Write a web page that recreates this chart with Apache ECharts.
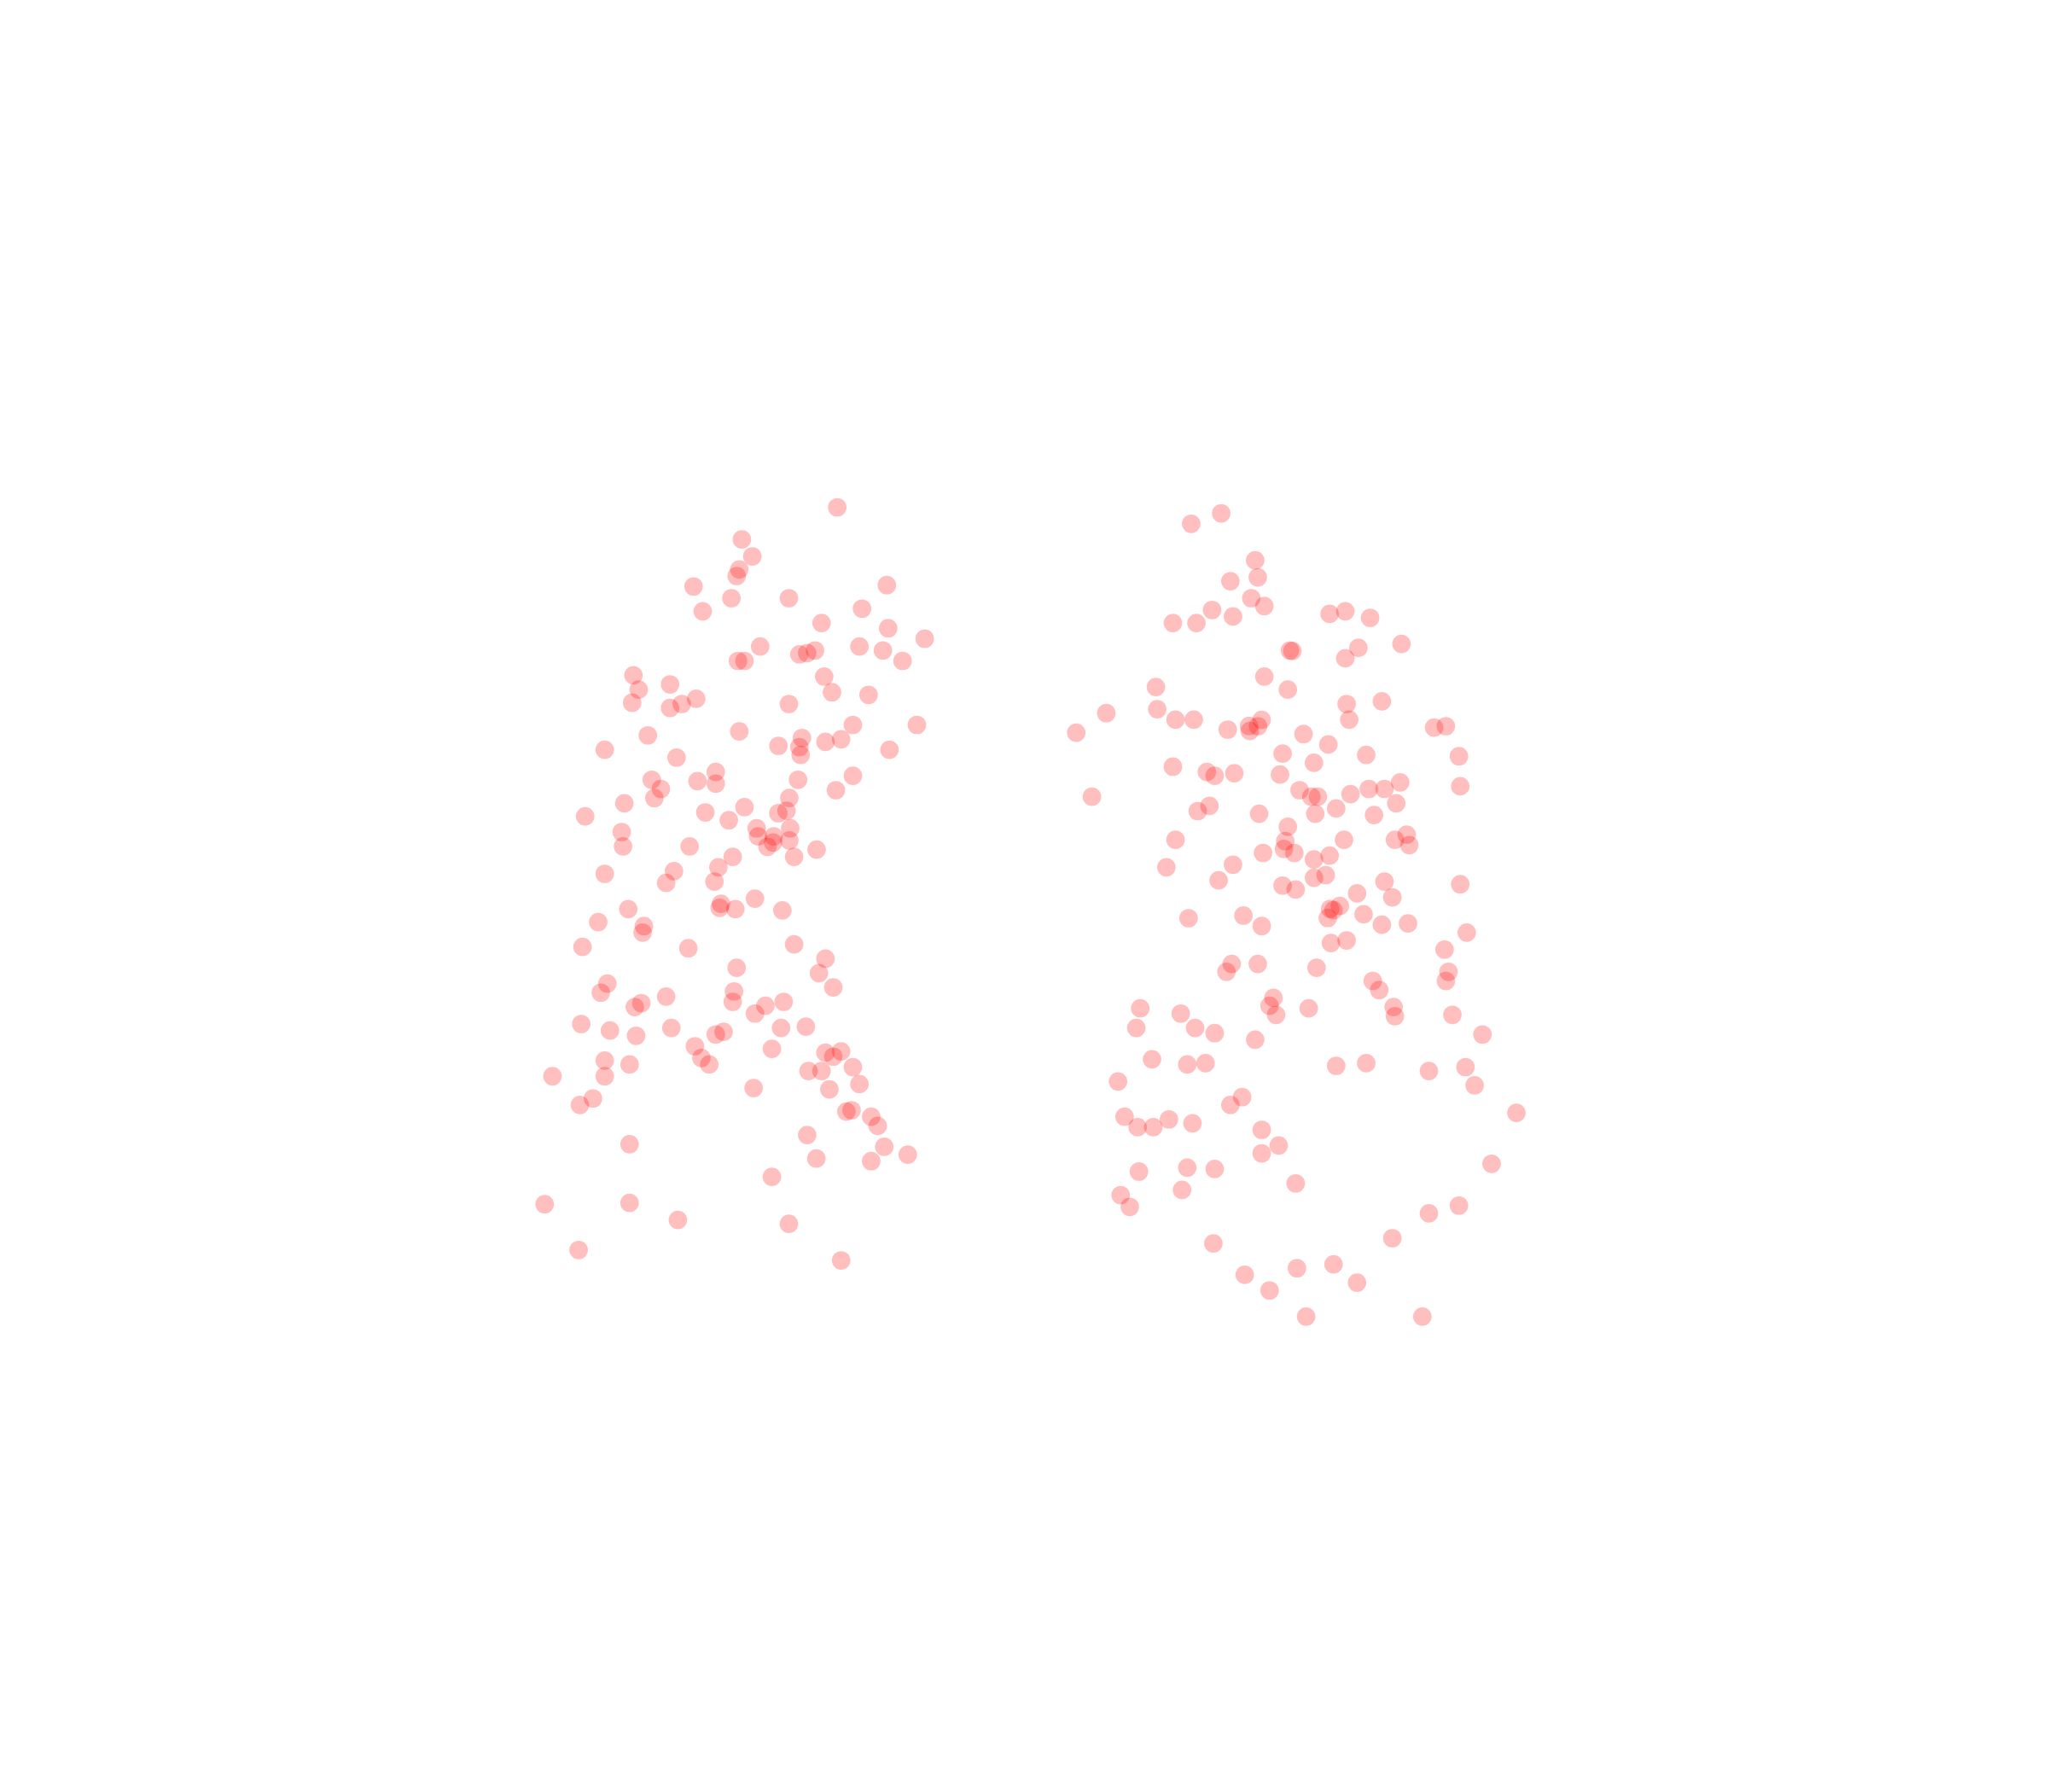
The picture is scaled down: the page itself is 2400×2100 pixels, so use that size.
<!DOCTYPE html>
<html><head><meta charset="utf-8">
<style>html,body{margin:0;padding:0;background:#fff}#c{width:2400px;height:2100px}</style>
<script src="https://cdn.jsdelivr.net/npm/echarts@6/dist/echarts.min.js"></script>
</head><body><div id="c"></div>
<script>
const groupA = [[641,388.4],[568,413],[576,426],[566,436],[564,441],[531,449],[560,458],[604,458],[538,468],[660,466],[679,448],[629,477],[680,481],[708,489],[582,495],[658,495],[676,498],[691,506],[565,506],[570,506],[612,501],[618,500],[624,498],[631,518],[637,530],[665,532],[485,517],[513,524],[489,528],[484,538],[513,542],[522,539],[533,535],[604,539],[566,560],[653,555],[702,555],[496,563],[463,574],[518,580],[596,571],[614,565],[612,572],[613,578],[632,568],[644,566],[681,574],[548,591],[534,598],[548,600],[499,597],[506,604],[501,611],[478,615],[448,625],[611,597],[653,594],[640,605],[604.3,610.9],[570,618],[595.9,622.6],[602.2,620.7],[540,622],[558,628],[579.3,634.2],[605,634.2],[580.4,640.3],[592.4,640.3],[476,637],[477,648],[528,648],[587.6,648.3],[591.9,645],[604.3,643.5],[625.2,650.5],[608,656],[561,656],[550,664],[516,667],[463,669],[510,676],[547,675],[552,692],[551,695],[563,696],[578,688],[599,697],[481,696],[458,706],[493,709],[492,714],[446,725],[527,726],[608,723],[632,734],[627,745],[564,741],[638,756],[465,753],[460,760],[562,759],[561,767],[510,763],[491,768],[486,771],[586,770],[600,767],[578,776],[445,784],[467,789],[487,793],[514,787],[598,787],[617,786],[548,792],[554,790],[532,801],[537,810],[543,815],[591,803],[632,806],[638,809],[644,805],[463,812],[482,815],[463,824],[423,824],[619,820],[629,820],[653,817],[658,830],[577,833],[635,834],[454,841],[444,846],[648,851],[652,850],[667,855],[672,862],[618,869],[482,876],[677,878],[695,884],[625,887],[667,889],[591,901],[417,922],[482,921],[519,934],[604,937],[443,957],[644,965]];
const groupB = [[935,393],[912,401],[961,429],[963,442],[942,445],[958,458],[968,464],[928,467],[944,472],[916,477],[898,477],[1018,470],[1030,468],[1049,473],[1073,493],[1040,496],[1030,504],[987.6,498],[989.5,498.4],[968,518],[986,528],[885,526],[886,543],[847,546],[900,551],[914,551],[824,561],[940,558.6],[956.3,555.8],[956.9,559.7],[963.2,556],[965.9,551.2],[1031,539],[1058,537],[1033,551],[998,562],[1017,570],[1098,557],[1107,556],[1117,579],[982,577],[1046,578],[1006,584],[898,587],[924,591],[930,594],[945,592],[980,593],[1072,599],[1118,602],[1060,604],[1048,604],[1034,608],[995,605],[1004,610],[1009,610],[836,610],[1069,615],[1023,619],[1007,623],[964,623],[926,617],[917,621],[1052,624],[986,633],[984,644],[900,643],[1029,643],[1068,643],[1077,639],[1079,647],[983,650],[967,653],[991,653],[1018,655],[1006,658],[893,664],[944,662],[933,674],[1015,670],[1006,672],[1060,675],[1118,677],[982,678],[992,681],[1039,684],[1066,687],[1025.8,693.6],[1018.4,695.8],[1021,696.9],[1016.6,702.8],[1044,700],[1058,708],[1078,707],[952,701],[910,703],[966,709],[1123,714],[1031,720],[1019,722],[1106,727],[963,738],[943,738],[939,744],[1008,741],[1109,744],[1107,751],[1051,751],[1056,758],[975,764],[972,770],[977,777],[1002,772],[1067,771],[1068,778],[1112,777],[873,772],[904,776],[870,787],[915,787],[930,791],[961,796],[1135,792],[882,811],[909,815],[923,814],[1023,816],[1046,814],[1094,820],[1122,817],[1129,831],[856,828],[951,840],[942,846],[1161,852],[861,855],[871,863],[883,863],[895,857],[913,860],[966,865],[979,877],[966,883],[909,894],[930,895],[872,897],[1142,891],[992,906],[905,911],[858,915],[865,924],[1117,923],[1094,929],[1066,948],[929,952],[1021,968],[993,971],[953,976],[1039,982],[972,988],[1000,1008],[1089,1008]];
const chart = echarts.init(document.getElementById('c'), null, {renderer:'canvas', width:2400, height:2100});
const mk = (name, data) => ({name, type:'scatter', data, symbol:'circle', symbolSize:21.7, silent:true, animation:false,
  itemStyle:{color:'#ff0000', opacity:0.25, borderWidth:0}});
chart.setOption({
  animation:false, backgroundColor:'#ffffff',
  grid:{left:0,right:0,top:0,bottom:0},
  xAxis:{type:'value',min:0,max:1568,show:false},
  yAxis:{type:'value',min:0,max:1372,inverse:true,show:false},
  series:[mk('A',groupA),mk('B',groupB)]
});
</script></body></html>
